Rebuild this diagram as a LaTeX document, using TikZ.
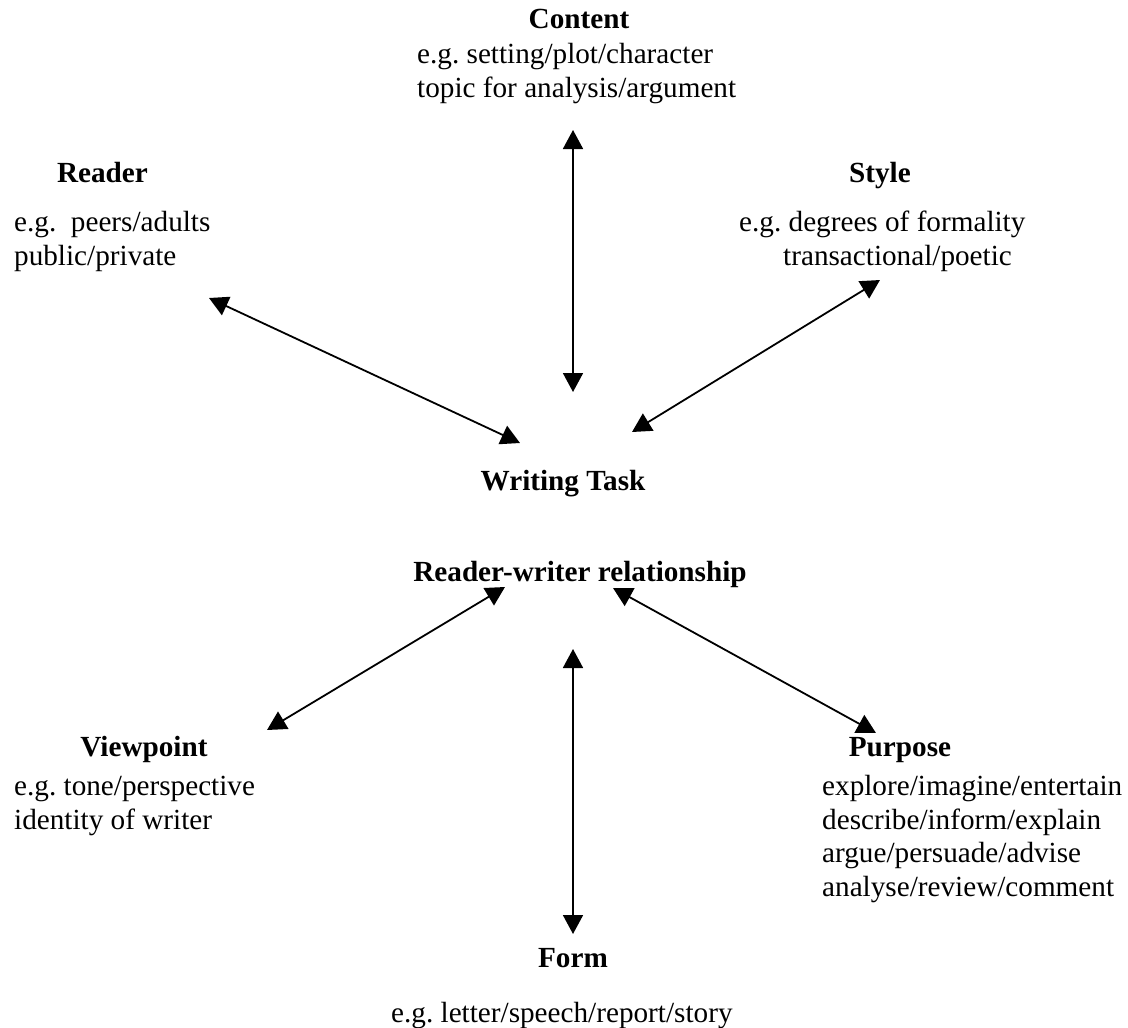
\documentclass[tikz,border=0pt]{standalone}
\usepackage{fontspec}
\setmainfont{Liberation Serif}
\usetikzlibrary{arrows.meta}
\frenchspacing

\begin{document}
\begin{tikzpicture}[x=1pt, y=-1pt]
		\tikzstyle{heading} = [font=\fontsize{29.2}{33.5}\selectfont\bfseries, anchor=base, inner sep=0pt]
		\tikzstyle{info} = [font=\fontsize{29.2}{33.5}\selectfont, inner sep=0pt, align=left, anchor=base west]
		\tikzstyle{link} = [{Triangle[length=19pt, width=20pt]}-{Triangle[length=19pt, width=20pt]}, line width = 1.8pt]
		\useasboundingbox (0,0) rectangle (1128,1028);
		
		\node[heading] at (579, 28) (content) {Content};
		\node[info] at (417, 97) (contentx) {e.g. setting/plot/character\\topic for analysis/argument};
		
		\node[heading] at (102.5, 182) (reader) {Reader};
		\node[info] at (14, 265) (readerx) {e.g.\ \ peers/adults\\public/private};
		
		\node[heading] at (880, 182) (style) {Style};
		\node[info] at (739, 265) (stylex) {e.g. degrees of formality\\\hspace*{44pt}transactional/poetic};
		
		\node[heading] at (563, 490) (task) {Writing Task};
		\node[heading] at (580, 581) (relation) {Reader-writer relationship};
		
		\node[heading] at (144, 756) (viewpoint) {Viewpoint};
		\node[info] at (14, 829) (viewpointx) {e.g. tone/perspective\\identity of writer};
		
		\node[heading] at (900, 756) (purpose) {Purpose};
		\node[info] at (822, 896) (purposex) {explore/imagine/entertain\\describe/inform/explain\\argue/persuade/advise\\analyse/review/comment};
		
		\node[heading] at (573, 967) (form) {Form};
		\node[info] at (391, 1022) (formx) {e.g. letter/speech/report/story};
		
		% arrow ends
		\coordinate (c1) at (573, 130);
		\coordinate (c2) at (573, 392);
		\coordinate (r1) at (209, 298);
		\coordinate (r2) at (520, 443);
		\coordinate (s1) at (880, 280);
		\coordinate (s2) at (632, 432);
		\coordinate (v1) at (505, 587);
		\coordinate (v2) at (267, 730);
		\coordinate (p1) at (613, 588);
		\coordinate (p2) at (876, 733);
		\coordinate (f1) at (573, 649);
		\coordinate (f2) at (573, 934);
		
		\draw[link] (c1) -- (c2);
		\draw[link] (r1) -- (r2);
		\draw[link] (s1) -- (s2);
		\draw[link] (v1) -- (v2);
		\draw[link] (p1) -- (p2);
		\draw[link] (f1) -- (f2);
\end{tikzpicture}
\end{document}
